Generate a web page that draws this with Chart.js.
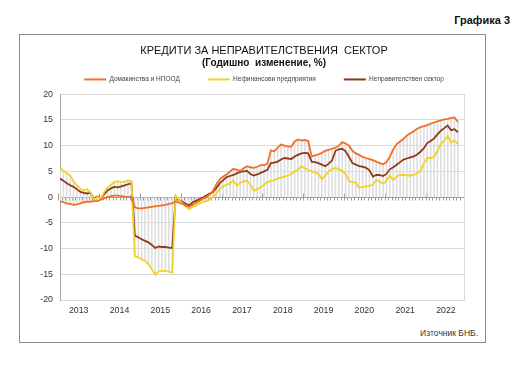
<!DOCTYPE html>
<html><head><meta charset="utf-8">
<script src="https://cdn.jsdelivr.net/npm/chart.js@4.4.0/dist/chart.umd.min.js"></script>
<style>
html,body{margin:0;padding:0;background:#fff;width:527px;height:367px;overflow:hidden;font-family:"Liberation Sans",Arial,sans-serif;}
#frame{position:absolute;left:19px;top:34px;width:465px;height:307px;border:1px solid #8c8c8c;}
#g3{position:absolute;right:17px;top:14px;font-weight:bold;font-size:11px;color:#111;}
#src{position:absolute;right:49px;top:328px;font-size:8.5px;color:#333;}
#wrap{position:absolute;left:19px;top:36px;width:508px;height:290px;}
</style></head><body>
<div id="frame"></div>
<div id="g3">Графика 3</div>
<div id="src">Източник БНБ.</div>
<div id="wrap"><canvas id="c" width="508" height="290"></canvas></div>
<script>
const years = ['2013','2014','2015','2016','2017','2018','2019','2020','2021','2022'];
const seriesNames = ['Домакинства и НПООД','Нефинансови предприятия','Неправителствен сектор'];
// monthly, Jan 2013 .. Oct 2022
const households = [
-0.8,-1.0,-1.2,-1.3,-1.5,-1.4,-1.2,-1.0,-0.9,-0.9,-0.8,-0.8,
-0.5,-0.2,0.0,0.2,0.3,0.3,0.2,0.1,0.0,0.1,-2.0,-2.2,
-2.2,-2.1,-2.0,-1.9,-1.8,-1.7,-1.6,-1.5,-1.3,-1.2,-0.8,-1.1,
-1.3,-1.7,-1.9,-1.5,-1.1,-0.7,-0.3,0.0,0.5,1.2,2.5,3.5,
4.0,4.4,5.0,5.5,5.3,5.1,5.6,6.0,5.8,5.7,5.9,6.2,
6.2,6.5,9.1,8.9,9.6,10.2,10.0,9.8,9.8,10.8,11.2,11.0,
11.1,10.9,7.9,8.1,8.3,8.6,9.0,9.2,9.4,9.6,10.0,10.7,
10.4,10.0,9.0,8.5,8.2,7.8,7.6,7.4,7.2,6.9,6.6,6.4,
6.8,7.9,9.3,10.3,10.8,11.3,12.0,12.4,12.8,13.3,13.6,13.8,
14.0,14.3,14.5,14.7,14.9,15.1,15.2,15.4,15.5,14.6
];
const nonFinancial = [
5.7,5.2,4.6,4.2,3.0,2.3,1.6,1.3,1.5,0.9,-0.5,0.0,
-0.3,1.0,1.9,2.4,2.9,3.1,2.9,3.0,3.2,3.1,-11.5,-11.7,
-12.1,-12.4,-13.0,-14.0,-15.1,-14.5,-14.3,-14.4,-14.5,-14.7,0.3,-0.6,
-1.2,-1.8,-2.4,-1.9,-1.6,-1.2,-1.0,-0.8,-0.5,0.0,0.8,1.5,
2.2,2.4,2.6,3.3,2.2,2.8,3.0,3.2,2.4,1.2,1.5,1.9,
2.4,2.9,3.1,3.3,3.6,3.8,4.0,4.2,4.5,5.0,5.4,6.0,
5.6,5.3,5.0,4.8,4.5,3.5,4.2,5.0,5.4,5.7,5.4,5.1,
4.5,3.1,2.9,2.8,1.8,2.0,2.1,2.2,2.4,3.3,3.0,2.6,
3.2,4.2,3.3,4.0,4.3,4.3,4.2,4.2,4.3,4.6,5.1,6.5,
7.6,7.6,7.8,9.0,10.3,11.0,11.9,10.6,11.0,10.3
];
const total = [
3.6,3.2,2.7,2.3,2.0,1.5,1.0,0.8,0.7,0.8,-0.3,0.1,
-0.2,0.6,1.3,1.7,2.0,1.9,2.1,2.3,2.5,2.7,-7.5,-7.8,
-8.2,-8.5,-8.8,-9.3,-9.9,-9.6,-9.7,-9.7,-9.8,-9.9,0.0,-0.6,
-0.9,-1.3,-1.6,-1.0,-0.7,-0.4,-0.1,0.3,0.7,1.0,1.8,2.7,
3.3,3.9,4.1,4.3,4.6,4.9,5.0,5.1,4.5,4.2,4.4,4.7,
5.0,5.3,6.6,6.7,6.9,7.3,7.6,7.5,7.4,7.9,8.2,8.5,
8.6,8.5,6.9,6.8,6.6,6.3,6.0,6.5,7.1,9.0,9.3,9.4,
8.9,7.8,6.6,6.3,6.0,5.9,5.7,5.2,4.0,4.3,4.3,4.1,
4.5,5.4,5.8,6.3,6.8,7.3,7.5,7.7,7.9,8.3,8.8,9.5,
10.5,10.9,11.4,12.2,12.9,13.4,13.9,13.0,13.2,12.6
];
const yTicks = [-20,-15,-10,-5,0,5,10,15,20];

const N = households.length;
const pts = arr => arr.map((v,i)=>({x:i,y:v}));
const drops = households.map((v,i)=>{
  const vals=[0,v,nonFinancial[i],total[i]];
  return {x:i,y:[Math.min(...vals),Math.max(...vals)]};
});

const monthTicks = {
  id:'monthTicks',
  beforeDatasetsDraw(chart){
    const {ctx, scales:{x,y}} = chart;
    const y0 = Math.round(y.getPixelForValue(0))+0.5;
    ctx.save(); ctx.strokeStyle='#9a9a9a'; ctx.lineWidth=1; ctx.beginPath();
    for(let m=0;m<=N;m++){
      const px=Math.round(x.getPixelForValue(m-0.5))+0.5;
      const major=(m%12===0);
      ctx.moveTo(px,y0-(major?4:0)); ctx.lineTo(px,y0+3);
    }
    ctx.stroke(); ctx.restore();
  }
};

const font='"Liberation Sans", Arial, sans-serif';
const chart = new Chart(document.getElementById('c'),{
  type:'line',
  data:{datasets:[
    {label:seriesNames[0],data:pts(households),borderColor:'#F07028',backgroundColor:'#F07028',borderWidth:1.8,pointRadius:0,order:1},
    {label:seriesNames[1],data:pts(nonFinancial),borderColor:'#F0D428',backgroundColor:'#F0D428',borderWidth:1.8,pointRadius:0,order:2},
    {label:seriesNames[2],data:pts(total),borderColor:'#8E3A1C',backgroundColor:'#8E3A1C',borderWidth:1.8,pointRadius:0,order:3},
    {type:'bar',label:'drop',data:drops,backgroundColor:'#dedede',barThickness:1,grouped:false,order:10}
  ]},
  options:{
    responsive:false,animation:false,devicePixelRatio:1,
    layout:{padding:{left:0,right:18,top:0,bottom:6}},
    plugins:{
      tooltip:{enabled:false},
      title:{display:true,text:'КРЕДИТИ ЗА НЕПРАВИТЕЛСТВЕНИЯ  СЕКТОР',color:'#111',font:{family:font,size:11,weight:'normal'},padding:{top:8,bottom:0}},
      subtitle:{display:true,text:'(Годишно  изменение, %)',color:'#111',font:{family:font,size:10,weight:'bold'},padding:{top:0,bottom:2}},
      legend:{display:true,position:'top',labels:{
        boxWidth:22,boxHeight:2,padding:28,color:'#444',font:{family:font,size:6.5},
        generateLabels(chart){
          const items=Chart.defaults.plugins.legend.labels.generateLabels(chart);
          return items.filter(i=>i.datasetIndex<3).map(i=>Object.assign(i,{fillStyle:i.strokeStyle,lineWidth:0}));
        }
      }}
    },
    scales:{
      x:{type:'linear',min:0,max:118.8,offset:false,
        grid:{display:false,drawTicks:false,offset:false},border:{display:false},
        afterBuildTicks(s){s.ticks=years.map((_,i)=>({value:5.5+12*i}));},
        afterFit(s){s.height=20;},
        ticks:{padding:5,color:'#333',font:{family:font,size:8.8},autoSkip:false,maxRotation:0,
          callback:(v,i)=>years[i]}
      },
      y:{min:-20,max:20,
        afterBuildTicks(s){s.ticks=yTicks.map(v=>({value:v}));},
        afterFit(s){s.width=41;},
        grid:{color:c=>c.tick&&c.tick.value===0?'#a0a0a0':'#d9d9d9',drawTicks:false},
        border:{color:'#a6a6a6'},
        ticks:{padding:7,color:'#333',font:{family:font,size:8.8}}
      },
      y2:{position:'right',min:-20,max:20,display:true,
        grid:{display:false,drawTicks:false},border:{color:'#d9d9d9'},
        ticks:{display:false},afterFit(s){s.width=45;}
      }
    }
  },
  plugins:[monthTicks]
});
// keep the wide horizontal spacing of legend items while using a compact legend band
const lg = chart.legend;
const fit0 = lg.fit;
lg.fit = function(){ fit0.call(this); this.height = 23; };
lg.draw = function(){
  if(!this.options.display) return;
  const t = this.top; this.top = t - 23;
  this._draw();
  this.top = t;
};
chart.update();
</script>
</body></html>
